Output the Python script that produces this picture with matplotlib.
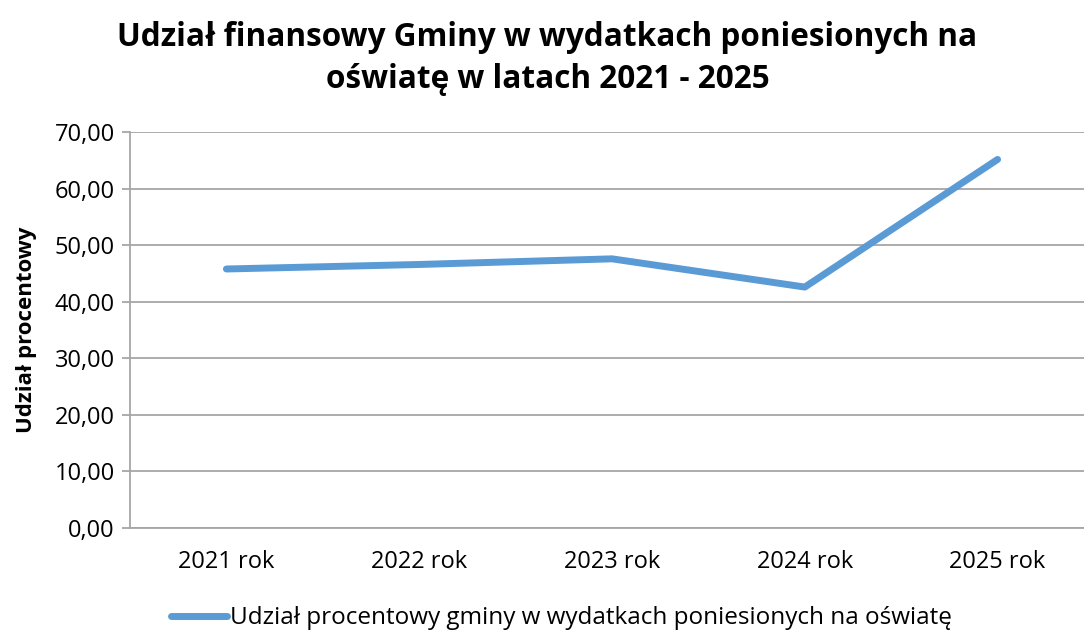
import matplotlib
matplotlib.use("Agg")
import matplotlib.pyplot as plt

categories = ["2021 rok", "2022 rok", "2023 rok", "2024 rok", "2025 rok"]
values = [45.8, 46.6, 47.6, 42.6, 65.2]
yticks = [0, 10, 20, 30, 40, 50, 60, 70]
ytick_labels = ["0,00", "10,00", "20,00", "30,00", "40,00", "50,00", "60,00", "70,00"]
series_name = "Udział procentowy gminy w wydatkach poniesionych na oświatę"
title = "Udział finansowy Gminy w wydatkach poniesionych na\noświatę w latach 2021 - 2025"
ylabel = "Udział procentowy"

plt.rcParams['font.family'] = ['Open Sans', 'DejaVu Sans']

fig = plt.figure(figsize=(10.84, 6.30), dpi=100)
ax = fig.add_axes([130/1084, (630-527.7)/630, (1094-130)/1084, (527.7-132.3)/630])

x = list(range(len(categories)))
ax.plot(x, values, color="#5b9bd5", linewidth=5, solid_capstyle="round",
        solid_joinstyle="round", label=series_name)

ax.set_xlim(-0.5, len(categories) - 0.5)
ax.set_ylim(0, 70)
ax.set_yticks(yticks)
ax.set_yticklabels(ytick_labels)
ax.set_xticks(x)
ax.set_xticklabels(categories)

grid_c = "#a6a6a6"
ax.yaxis.grid(True, color=grid_c, linewidth=1.3)
ax.set_axisbelow(True)
for s in ["top", "right"]:
    ax.spines[s].set_visible(False)
ax.spines["left"].set_color(grid_c)
ax.spines["left"].set_linewidth(1.3)
ax.spines["bottom"].set_color(grid_c)
ax.spines["bottom"].set_linewidth(1.3)
ax.tick_params(axis="y", length=6, color=grid_c, width=1.3, labelsize=17, pad=5)
ax.tick_params(axis="x", length=0, labelsize=17, pad=16)

ax.set_ylabel(ylabel, fontsize=16, fontweight="bold")
ax.yaxis.set_label_coords(-0.096, 0.5)

fig.text(0.505, 0.967, title, ha="center", va="top", fontsize=22.7, fontweight="bold",
         linespacing=1.35)

fig.legend(loc="lower center", bbox_to_anchor=(0.518, -0.035), frameon=False, fontsize=17.5,
           handlelength=2.3, handletextpad=0.15)

fig.savefig("out.png", dpi=100)
